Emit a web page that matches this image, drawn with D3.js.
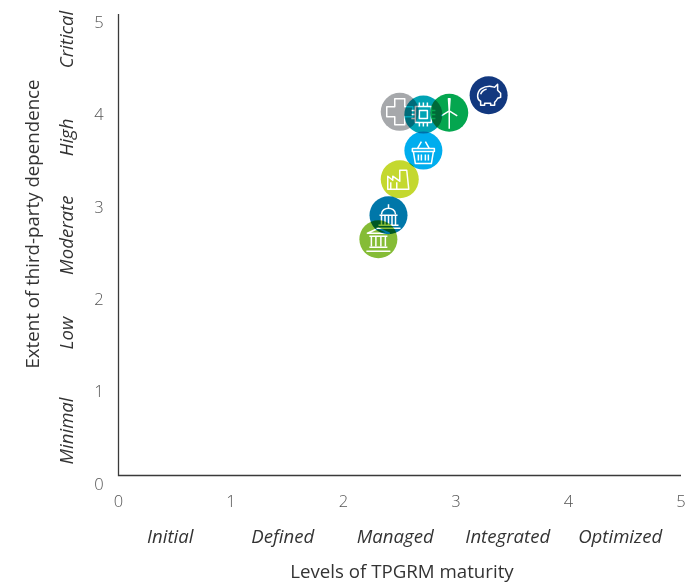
<!DOCTYPE html>
<html><head><meta charset="utf-8">
<script src="https://cdn.jsdelivr.net/npm/d3@7"></script>
<style>
html,body{margin:0;padding:0;background:#fff}
svg{display:block;font-family:"Open Sans",sans-serif}
.blend{mix-blend-mode:multiply}
</style></head><body>
<svg id="c" width="696" height="582"></svg>
<script>
const ticks=[0,1,2,3,4,5];
const xLevels=["Initial","Defined","Managed","Integrated","Optimized"];
const yLevels=["Minimal","Low","Moderate","High","Critical"];
const sectors=["health","chip","wind","piggy","basket","factory","bank","capitol"];
const maturity=[2.50,2.71,2.94,3.29,2.71,2.50,2.31,2.40];
const dependence=[3.94,3.91,3.93,4.12,3.52,3.21,2.56,2.82];
const colours=["#a6a8ab","#00a3b4","#04a64f","#12387f","#00adee","#c4d82f","#85bc36","#0077a9"];

const svg=d3.select("#c");
const x=d3.scaleLinear().domain([0,5]).range([118.5,681]);
const y=d3.scaleLinear().domain([0,5]).range([475.5,14]);
const yBand=d3.scalePoint().domain(yLevels).range([431,39.5]);
const R=19;

svg.append("path").attr("d",`M${x(0)},${y(5)}V${y(0)}H${x(5)}`).attr("fill","none").attr("stroke","#3a3a3a").attr("stroke-width",1.3);

svg.selectAll(".xt").data(ticks).join("text").attr("class","xt")
 .attr("x",d=>x(d)).attr("y",507).attr("text-anchor","middle").attr("font-size",16.5).attr("font-weight",300).attr("fill","#555").text(d=>d);
svg.selectAll(".yt").data(ticks).join("text").attr("class","yt")
 .attr("x",99).attr("y",d=>y(d)+14).attr("text-anchor","middle").attr("font-size",16.5).attr("font-weight",300).attr("fill","#555").text(d=>d);

svg.selectAll(".xl").data(xLevels).join("text").attr("class","xl")
 .attr("x",(d,i)=>x(i+.5)-4.5).attr("y",543).attr("text-anchor","middle").attr("font-size",18.6).attr("font-style","italic").attr("fill","#333").text(d=>d);
svg.selectAll(".yl").data(yLevels).join("text").attr("class","yl")
 .attr("transform",d=>`translate(73,${yBand(d)}) rotate(-90)`).attr("text-anchor","middle").attr("font-size",18.6).attr("font-style","italic").attr("fill","#333").text(d=>d);

svg.append("text").attr("x",402).attr("y",578).attr("text-anchor","middle").attr("font-size",18.7).attr("fill","#333").text("Levels of TPGRM maturity");
svg.append("text").attr("transform",`translate(39,224) rotate(-90)`).attr("text-anchor","middle").attr("font-size",18.7).attr("fill","#333").text("Extent of third-party dependence");

const icons={
 health:"M-5,-13H5V-5H13V5H5V13H-5V5H-13V-5H-5Z",
 chip:"M-8,-8H8V8H-8Z M-4,-4H4V4H-4Z M-4,-8V-12 M0,-8V-12 M4,-8V-12 M-4,8V12 M0,8V12 M4,8V12 M-8,-4H-12 M-8,0H-12 M-8,4H-12 M8,-4H12 M8,0H12 M8,4H12",
 wind:"M0,-2V16 M0,-2L-0.8,-14L0.8,-14Z M0,-2L-8,3 M0,-2L8,3",
 piggy:"M-11,1C-11,-6 -5,-9 1,-9C3,-9 5,-8 6,-8L9,-11V-5L12,-2V2L9,3C8,5 7,6 6,7V10H2V8H-4V10H-8V6C-10,5 -11,3 -11,1Z M-8,-1C-7,-4 -4,-6 -2,-6",
 basket:"M-11,-2H11V1H-11Z M-10,1L-8,13H8L10,1 M-5,4V10 M-2,4V10 M2,4V10 M5,4V10 M-6,-2L-2,-9 M6,-2L2,-9",
 factory:"M-12,10V-3L-7,1V-3L0,2V-9H7L9,10Z M-9,3V10 M-3,3V10",
 capitol:"M-10,10H10 M-12,13H12 M-9,0H9 M-7,0V10 M-3.5,0V10 M0,0V10 M3.5,0V10 M7,0V10 M-7,-1C-7,-5 -3,-7 0,-7C3,-7 7,-5 7,-1 M0,-7V-11",
 bank:"M-11,-6L0,-11L11,-6Z M-9,-3H9 M-7,-3V7 M-2.5,-3V7 M2.5,-3V7 M7,-3V7 M-9,8H9 M-12,12H12"
};
const pts=sectors.map((s,i)=>({s,c:colours[i],x:maturity[i],y:dependence[i]}));
const g=svg.selectAll(".pt").data(pts).join("g").attr("class","pt blend")
 .attr("transform",d=>`translate(${x(d.x)},${y(d.y)})`);
g.append("circle").attr("r",R).attr("fill",d=>d.c);
g.append("path").attr("d",d=>icons[d.s]).attr("fill","none").attr("stroke","#fff").attr("stroke-width",1.5).attr("stroke-linejoin","round");
</script></body></html>
